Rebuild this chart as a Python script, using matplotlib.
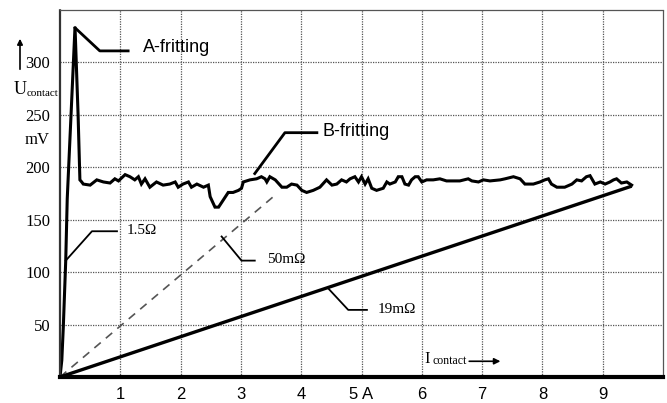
import matplotlib
matplotlib.use('Agg')
import matplotlib.pyplot as plt
import numpy as np

# Contact current (A) and contact voltage (mV)
fritting_x = [0.0, 0.03, 0.055, 0.095, 0.12, 0.249, 0.30, 0.33,
              0.36, 0.386, 0.50, 0.61, 0.72, 0.83, 0.91, 0.97, 1.08, 1.16, 1.24, 1.30,
              1.35, 1.41, 1.49, 1.60, 1.71, 1.82, 1.91, 1.96, 2.04, 2.13, 2.18, 2.27,
              2.38, 2.46, 2.49, 2.57, 2.63, 2.71, 2.79, 2.87, 2.96, 3.01, 3.04, 3.15,
              3.26, 3.34, 3.40, 3.43, 3.48, 3.57, 3.68, 3.76, 3.84, 3.93, 4.01, 4.09,
              4.20, 4.31, 4.42, 4.51, 4.59, 4.67, 4.75, 4.81, 4.89, 4.95, 5.00, 5.06,
              5.11, 5.17, 5.25, 5.36, 5.42, 5.47, 5.56, 5.61, 5.67, 5.72, 5.78, 5.83,
              5.89, 5.94, 6.00, 6.08, 6.19, 6.30, 6.41, 6.63, 6.77, 6.83, 6.94, 7.02,
              7.13, 7.30, 7.38, 7.52, 7.63, 7.71, 7.85, 7.96, 8.04, 8.10, 8.15, 8.24,
              8.37, 8.49, 8.57, 8.65, 8.73, 8.79, 8.87, 8.96, 9.04, 9.12, 9.18, 9.23,
              9.31, 9.40, 9.48]
fritting_y = [0, 16, 48, 111, 170, 334, 250, 188,
              186, 184, 183, 188, 186, 185, 189, 187, 193, 191, 188, 191,
              184, 189, 181, 186, 183, 184, 186, 181, 184, 186, 181, 184,
              181, 183, 172, 162, 162, 169, 176, 176, 178, 180, 186, 188,
              189, 191, 189, 186, 191, 188, 181, 181, 184, 183, 178, 176,
              178, 181, 188, 183, 184, 188, 186, 189, 191, 186, 191, 184,
              189, 180, 178, 180, 186, 184, 186, 191, 191, 184, 183, 188,
              191, 191, 186, 188, 188, 189, 187, 187, 189, 187, 186, 188,
              187, 188, 189, 191, 189, 184, 184, 186, 188, 189, 184, 181,
              181, 184, 188, 187, 191, 192, 184, 186, 184, 186, 188, 189,
              185, 186, 183]

# Resistance lines
line_19m_x = [0.0, 9.48]
line_19m_y = [0, 182]
line_50m_x = [0.0, 3.6]
line_50m_y = [0, 175]

x_ticks = [1, 2, 3, 4, 5, 6, 7, 8, 9]
x_tick_labels = ['1', '2', '3', '4', '5 A', '6', '7', '8', '9']
y_ticks = [50, 100, 150, 200, 250, 300]

W, H = 667, 403
fig = plt.figure(figsize=(W / 100, H / 100), dpi=100)
fig.set_facecolor('white')
ax = fig.add_axes([60 / W, 26 / H, 603 / W, 367 / H])

grid_style = dict(color='#555555', linestyle=(0, (1, 1)), linewidth=0.9)
ax.set_xlim(0, 10)
ax.set_ylim(0, 350)
ax.set_xticks(x_ticks)
ax.set_xticklabels(x_tick_labels, fontfamily='Liberation Sans', fontsize=12)
ax.set_yticks(y_ticks)
ax.set_yticklabels([str(v) for v in y_ticks], fontfamily='Liberation Serif', fontsize=12)
ax.tick_params(length=0, pad=7)
ax.grid(True, **grid_style)
for s in ['top', 'right']:
    ax.spines[s].set(**grid_style)
ax.spines['left'].set(color='#333333', linestyle=(0, (1, 1)), linewidth=1.6)
ax.spines['bottom'].set_linewidth(3)

# Curves
ax.plot(line_50m_x, line_50m_y, color='#555555', lw=1.2, dashes=(5, 4))
ax.plot(line_19m_x, line_19m_y, color='black', lw=2.4, solid_capstyle='butt')
ax.plot(fritting_x, fritting_y, color='black', lw=2.2, solid_joinstyle='miter')

# Leader lines and labels
lead = dict(color='black', lw=1.3)
ax.plot([0.25, 0.66, 1.13], [333, 311, 311], color='black', lw=2)
ax.text(1.38, 314, 'A-fritting', fontfamily='Liberation Sans', fontsize=13, va='center')

ax.plot([3.23, 3.73, 4.26], [194, 233, 233], color='black', lw=2)
ax.text(4.36, 234, 'B-fritting', fontfamily='Liberation Sans', fontsize=13, va='center')

ax.plot([0.095, 0.53, 0.945], [111, 139, 139], **lead)
ax.text(1.11, 140, '1.5Ω', fontfamily='Liberation Serif', fontsize=11, va='center')

ax.plot([2.68, 3.01, 3.23], [134, 111, 111], **lead)
ax.text(3.43, 112, '50mΩ', fontfamily='Liberation Serif', fontsize=11, va='center')

ax.plot([4.44, 4.78, 5.09], [85, 64, 64], **lead)
ax.text(5.26, 64, '19mΩ', fontfamily='Liberation Serif', fontsize=11, va='center')

# Axis captions
ax.text(6.05, 17, 'I', fontfamily='Liberation Serif', fontsize=12, va='center')
ax.text(6.17, 15, 'contact', fontfamily='Liberation Serif', fontsize=8.5, va='center')
ax.annotate('', xy=(7.35, 15), xytext=(6.74, 15),
            arrowprops=dict(arrowstyle='-|>', color='black', lw=1.2, mutation_scale=9))

fig.text(14 / W, 1 - 90 / H, 'U', fontfamily='Liberation Serif', fontsize=13, va='center')
fig.text(27 / W, 1 - 93 / H, 'contact', fontfamily='Liberation Serif', fontsize=8, va='center')
fig.text(25 / W, 1 - 140 / H, 'mV', fontfamily='Liberation Serif', fontsize=12, va='center')
fig.add_artist(matplotlib.patches.FancyArrowPatch(
    (20 / W, 1 - 72 / H), (20 / W, 1 - 36 / H), transform=fig.transFigure,
    arrowstyle='-|>', mutation_scale=8, color='black', lw=1.2))

fig.savefig('out.png', dpi=100)
